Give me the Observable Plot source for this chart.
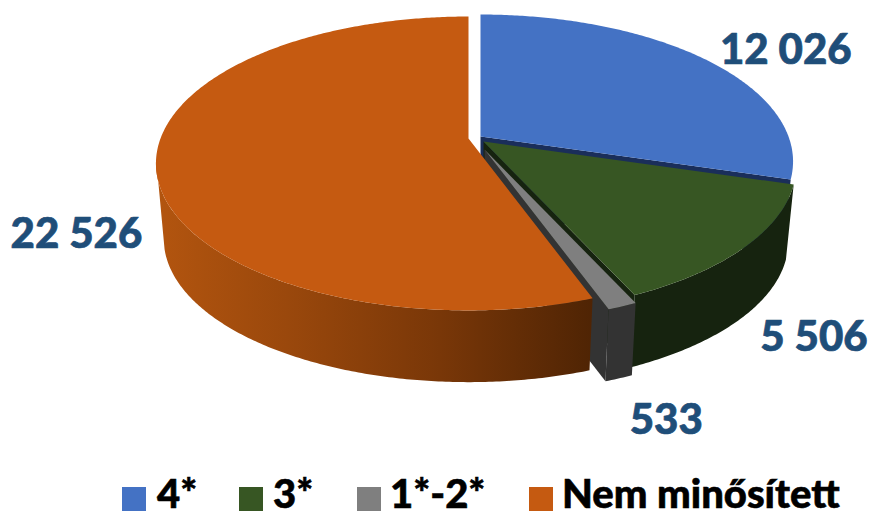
<!DOCTYPE html>
<html>
<head>
<meta charset="utf-8">
<script src="https://cdn.jsdelivr.net/npm/d3@7"></script>
<script src="https://cdn.jsdelivr.net/npm/@observablehq/plot@0.6"></script>
<style>
  html, body { margin: 0; padding: 0; background: #fff; }
  #chart svg { display: block; }
  #legend { position: relative; width: 870px; height: 53px; font: 900 40px Lato, sans-serif; color: #000; -webkit-text-stroke: 0.6px #000; }
  #legend i { position: absolute; top: 27px; width: 24px; height: 24px; }
  #legend span { position: absolute; top: 13px; line-height: 40px; white-space: nowrap; }
</style>
</head>
<body>
<div id="chart"></div>
<div id="legend"></div>
<script>
// Chart data
const categories = ["4*", "3*", "1*-2*", "Nem minősített"];
const values = [12026, 5506, 533, 22526];
const labels = ["12 026", "5 506", "533", "22 526"];

// Styles and layout
const topColors = ["#4472c4", "#375623", "#7f7f7f", "#c55a11"];
const wallColors = ["#1a2e5a", "#16230f", "#333333", "url(#wallOrange)"];
const faceColors = ["#1a2e5a", "#16230f", "#333333", "#5a2a05"];
const apexX = [480, 483, 484, 468];
const apexY = [136, 141, 149, 138];
const labelDx = [81, 69, 44, -79.5];
const labelDy = [-9, 90, 114, 71];
const legendSwatchX = [122, 239, 357, 529];
const legendTextX = [157, 273, 390, 562];

const W = 870, H = 460;
const rx = 308, ry = 142.7, persp = 0.17, depth = 76, shrink = 0.975;

const total = d3.sum(values);
const cum = d3.cumsum(values);
const ang = values.map((v, i) => ({
  a0: ((cum[i] - v) / total) * 2 * Math.PI,
  a1: (cum[i] / total) * 2 * Math.PI
}));

// Project a point of the pie's rim to the page
function rim(i, t, lower = false) {
  const u = Math.sin(t), v = Math.cos(t), s = 1 / (1 + persp * v);
  const k = lower ? shrink : 1;
  return {
    x: apexX[i] + rx * u * s * k,
    y: apexY[i] - ry * v * s * k + (lower ? depth : 0)
  };
}
function arc(i, t0, t1, lower = false) {
  const n = Math.max(2, Math.ceil(Math.abs(t1 - t0) / 0.01));
  return d3.range(n + 1).map(j => rim(i, t0 + (t1 - t0) * j / n, lower));
}
const apex = (i, lower = false) => ({ x: apexX[i], y: apexY[i] + (lower ? depth : 0) });

const poly = (pts, fill) => Plot.line(pts, { x: "x", y: "y", fill, stroke: "none", curve: "linear" });
const topFace = i => poly([apex(i), ...arc(i, ang[i].a0, ang[i].a1)], topColors[i]);
const cutFace = (i, t) => poly([apex(i), rim(i, t), rim(i, t, true), apex(i, true)], faceColors[i]);
const outerWall = (i, t0, t1, t2 = t1) =>
  poly([...arc(i, t0, t1), ...arc(i, t2, t0, true)], wallColors[i]);

const defs = () => {
  const d = d3.create("svg:defs");
  const g = d.append("linearGradient").attr("id", "wallOrange");
  [[0, "#b3550f"], [0.3, "#9a480c"], [0.65, "#793708"], [1, "#4f2404"]].forEach(([o, c]) =>
    g.append("stop").attr("offset", o).attr("stop-color", c));
  return d.node();
};

const labelData = labels.map((text, i) => {
  const p = rim(i, (ang[i].a0 + ang[i].a1) / 2);
  return { text, x: p.x + labelDx[i], y: p.y + labelDy[i] };
});

const orangeSpan = ang[3].a1 - ang[3].a0;

const chart = Plot.plot({
  width: W, height: H,
  margin: 0,
  x: { domain: [0, W], range: [0, W], axis: null },
  y: { domain: [0, H], range: [0, H], axis: null },
  marks: [
    defs,
    // blue slice
    cutFace(0, ang[0].a1),
    topFace(0),
    // green slice
    cutFace(1, ang[1].a1),
    outerWall(1, ang[1].a0, ang[1].a1),
    topFace(1),
    // grey slice
    cutFace(2, ang[2].a1),
    outerWall(2, ang[2].a0, ang[2].a1),
    topFace(2),
    // orange slice
    outerWall(3, ang[3].a0, ang[3].a0 + orangeSpan * 0.51, ang[3].a0 + orangeSpan * 0.48),
    topFace(3),
    Plot.text(labelData, {
      x: "x", y: "y", text: "text",
      fontFamily: "Lato, sans-serif", fontWeight: 900, fontSize: 42,
      fill: "#1f4e79", stroke: "#1f4e79", strokeWidth: 0.7,
      textAnchor: "middle", lineAnchor: "middle"
    })
  ]
});
document.getElementById("chart").append(chart);

const legend = document.getElementById("legend");
categories.forEach((c, i) => {
  const sw = document.createElement("i");
  sw.style.left = legendSwatchX[i] + "px";
  sw.style.background = topColors[i];
  const t = document.createElement("span");
  t.style.left = legendTextX[i] + "px";
  t.textContent = c;
  legend.append(sw, t);
});
</script>
</body>
</html>
